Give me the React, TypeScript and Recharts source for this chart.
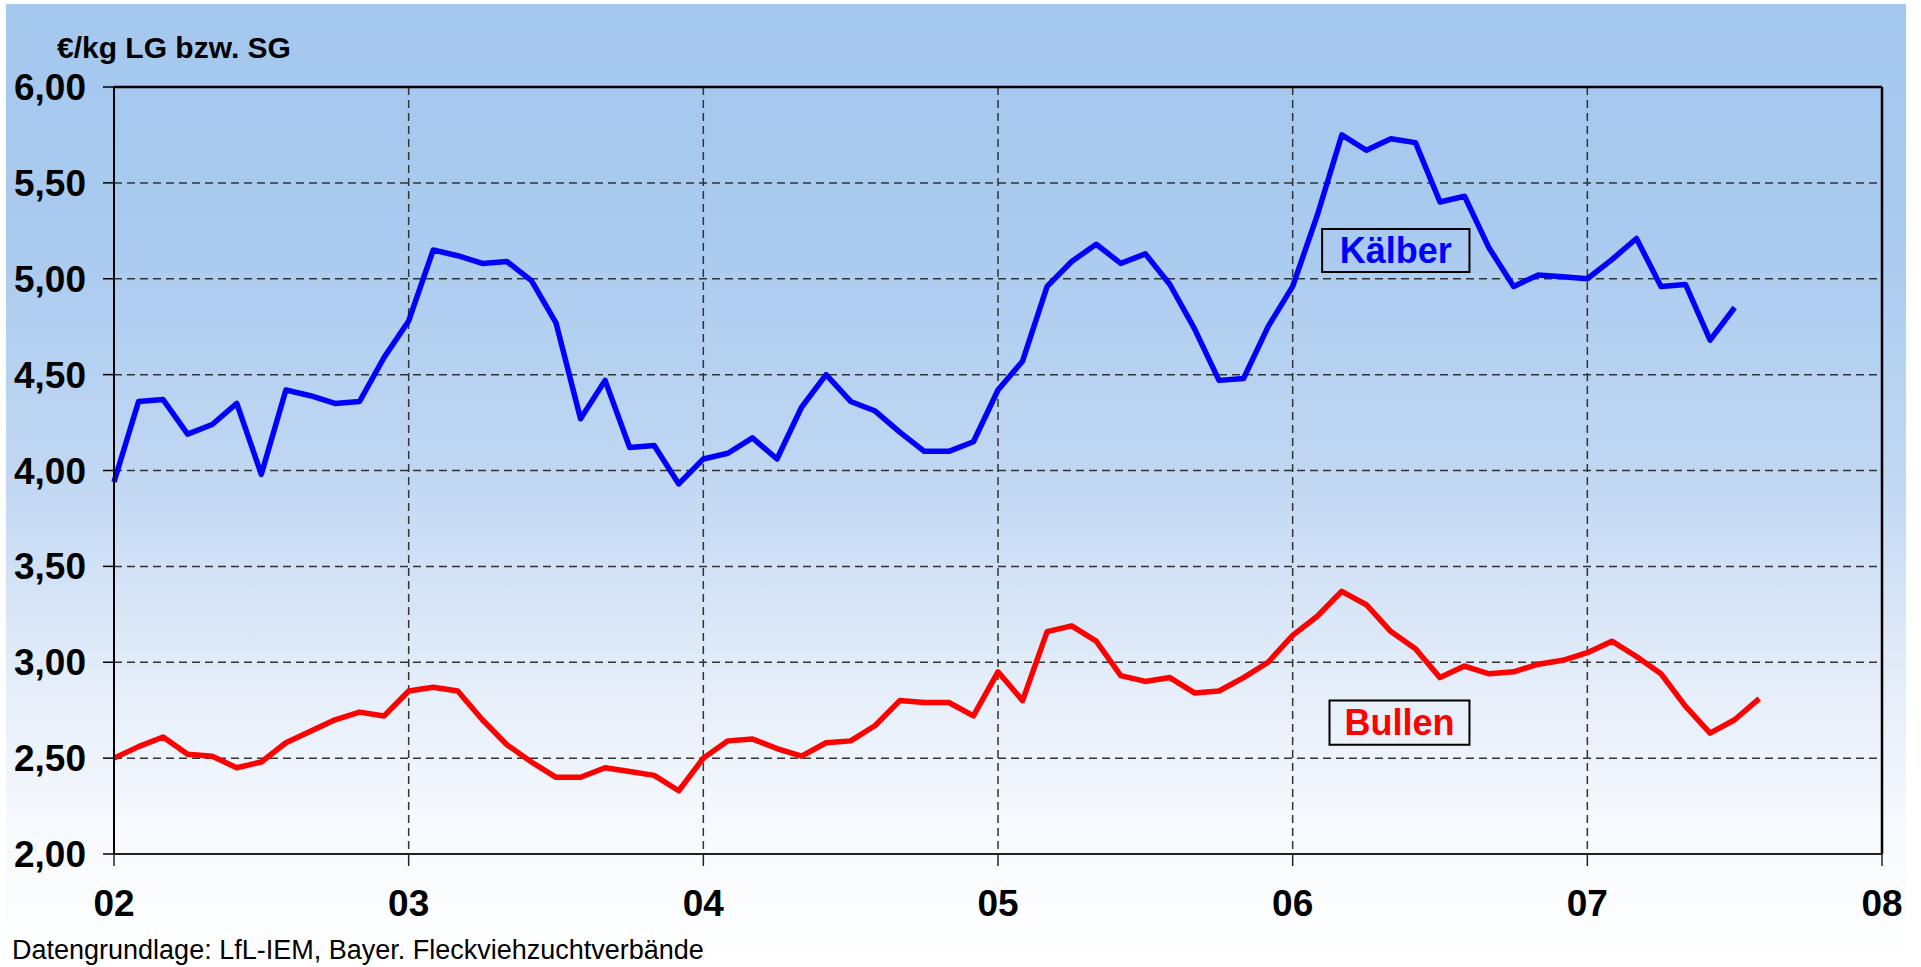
import React from 'react';
import { LineChart, Line, XAxis, YAxis, CartesianGrid, ReferenceLine, ReferenceArea } from 'recharts';

// monthly prices, Jan 2002 onwards (€/kg)
const kaelber = [
  3.94, 4.36, 4.37, 4.19, 4.24, 4.35, 3.98, 4.42, 4.39, 4.35, 4.36, 4.59,
  4.78, 5.15, 5.12, 5.08, 5.09, 4.99, 4.77, 4.27, 4.47, 4.12, 4.13, 3.93,
  4.06, 4.09, 4.17, 4.06, 4.33, 4.50, 4.36, 4.31, 4.20, 4.10, 4.10, 4.15,
  4.42, 4.57, 4.96, 5.09, 5.18, 5.08, 5.13, 4.97, 4.74, 4.47, 4.48, 4.75,
  4.96, 5.33, 5.75, 5.67, 5.73, 5.71, 5.40, 5.43, 5.16, 4.96, 5.02, 5.01,
  5.00, 5.10, 5.21, 4.96, 4.97, 4.68, 4.85,
];

const bullen = [
  2.50, 2.56, 2.61, 2.52, 2.51, 2.45, 2.48, 2.58, 2.64, 2.70, 2.74, 2.72,
  2.85, 2.87, 2.85, 2.70, 2.57, 2.48, 2.40, 2.40, 2.45, 2.43, 2.41, 2.33,
  2.50, 2.59, 2.60, 2.55, 2.51, 2.58, 2.59, 2.67, 2.80, 2.79, 2.79, 2.72,
  2.95, 2.80, 3.16, 3.19, 3.11, 2.93, 2.90, 2.92, 2.84, 2.85, 2.92, 3.00,
  3.14, 3.24, 3.37, 3.30, 3.16, 3.07, 2.92, 2.98, 2.94, 2.95, 2.99, 3.01,
  3.05, 3.11, 3.03, 2.94, 2.77, 2.63, 2.70, 2.81,
];

const yearLabels = ['02', '03', '04', '05', '06', '07', '08'];
const yTicks = [2, 2.5, 3, 3.5, 4, 4.5, 5, 5.5, 6];

const data = bullen.map((b, i) => ({ m: i, k: i < kaelber.length ? kaelber[i] : null, b }));

const FONT = '"Liberation Sans", Arial, sans-serif';

const YTick = ({ x, y, payload }: any) => (
  <text x={x - 15} y={y + 13} textAnchor="end" fontFamily={FONT} fontWeight="bold" fontSize={37} fill="#000">
    {payload.value.toFixed(2).replace('.', ',')}
  </text>
);

const XTick = ({ x, y, payload }: any) => (
  <text x={x} y={y + 48} textAnchor="middle" fontFamily={FONT} fontWeight="bold" fontSize={37} fill="#000">
    {yearLabels[payload.value / 12]}
  </text>
);

export default function App() {
  return (
    <div style={{ position: 'absolute', left: 0, top: 0, width: 1921, height: 967, background: '#fff', fontFamily: FONT }}>
      {/* gradient backdrop */}
      <div
        style={{
          position: 'absolute', left: 6, top: 4, width: 1900, height: 963,
          background: 'linear-gradient(to bottom, #a4c7ee 0%, #aacbef 25%, #c2d8f3 50%, #e4edf9 70%, #f6f9fd 85%, #ffffff 100%)',
        }}
      />
      <div style={{ position: 'absolute', left: 57, top: 33, fontSize: 30, fontWeight: 'bold', color: '#000', lineHeight: '30px' }}>
        €/kg LG bzw. SG
      </div>
      <div style={{ position: 'absolute', left: 12, top: 935, fontSize: 27, color: '#000', lineHeight: '30px' }}>
        Datengrundlage: LfL-IEM, Bayer. Fleckviehzuchtverbände
      </div>
      <div style={{ position: 'absolute', left: 0, top: 0 }}>
        <LineChart width={1921} height={967} data={data} margin={{ top: 87, right: 39, bottom: 53, left: 0 }}>
          <CartesianGrid stroke="#333" strokeWidth={1.5} strokeDasharray="8 5" />
          <XAxis
            dataKey="m"
            type="number"
            domain={[0, 72]}
            ticks={[0, 12, 24, 36, 48, 60, 72]}
            interval={0}
            height={60}
            stroke="#222"
            strokeWidth={2}
            tickSize={12}
            tickLine={{ stroke: '#222', strokeWidth: 1.5 }}
            tick={<XTick />}
          />
          <YAxis
            type="number"
            domain={[2, 6]}
            ticks={yTicks}
            interval={0}
            width={114}
            stroke="#000"
            strokeWidth={2}
            tickSize={11}
            tickLine={{ stroke: '#000', strokeWidth: 1.5 }}
            tick={<YTick />}
          />
          <ReferenceLine y={6} stroke="#000" strokeWidth={2.5} />
          <ReferenceLine x={72} stroke="#000" strokeWidth={2.5} />
          <Line dataKey="k" stroke="#0000ff" strokeWidth={5.5} dot={false} isAnimationActive={false} strokeLinejoin="round" />
          <Line dataKey="b" stroke="#ff0000" strokeWidth={5.5} dot={false} isAnimationActive={false} strokeLinejoin="round" />
          <ReferenceArea
            x1={49.2} x2={55.2} y1={5.035} y2={5.26}
            fill="none" stroke="#000" strokeWidth={2} ifOverflow="visible"
            label={{ value: 'Kälber', position: 'center', fill: '#0000ff', fontSize: 36, fontWeight: 'bold', fontFamily: FONT }}
          />
          <ReferenceArea
            x1={49.5} x2={55.2} y1={2.57} y2={2.80}
            fill="none" stroke="#000" strokeWidth={2} ifOverflow="visible"
            label={{ value: 'Bullen', position: 'center', fill: '#ff0000', fontSize: 36, fontWeight: 'bold', fontFamily: FONT }}
          />
        </LineChart>
      </div>
    </div>
  );
}
